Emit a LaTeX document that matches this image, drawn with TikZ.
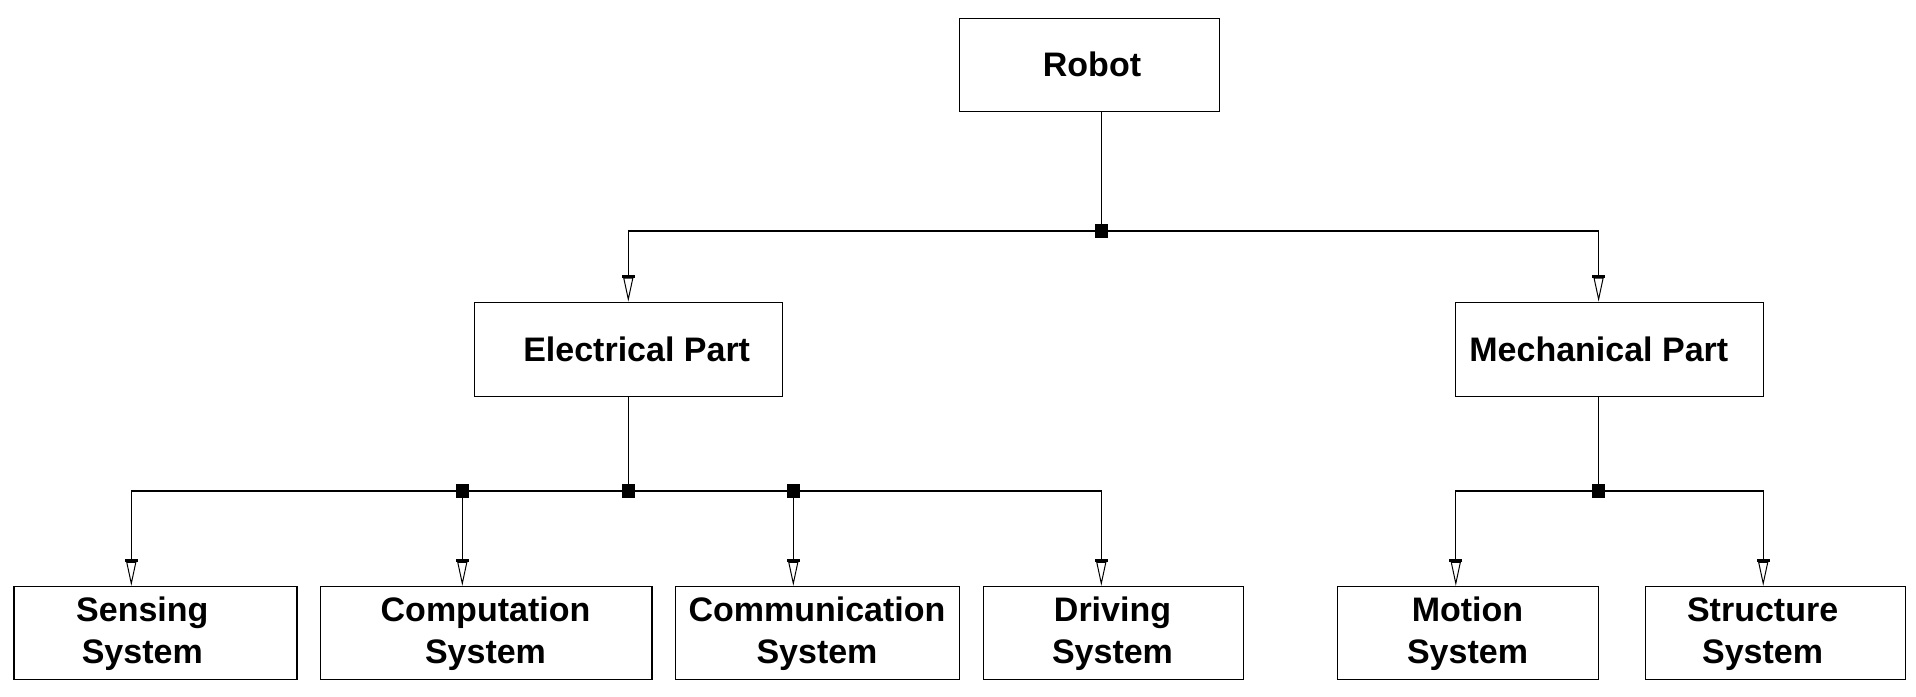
\documentclass[tikz,border=0pt]{standalone}
\usepackage{fontspec}
\setmainfont{Liberation Sans}
\usetikzlibrary{arrows.meta,calc}
\tikzset{
  box/.style={draw, line width=0.6pt, rectangle, inner sep=0pt},
  lbl/.style={font=\bfseries\fontsize{17}{21}\selectfont, align=center, inner sep=0pt},
  conn/.style={line width=0.6pt},
  arr/.style={conn, -{Bar[width=6.5pt,line width=1.3pt,sep=0pt]Triangle[open,length=12pt,width=5pt,line width=0.5pt,sep=0pt]}},
  junc/.style={fill=black, draw=none, rectangle, minimum size=6.2pt, inner sep=0pt},
}
\begin{document}
\begin{tikzpicture}[x=0.5pt,y=-0.5pt]
\useasboundingbox (0,0) rectangle (1916,696);
% boxes
\node[box, minimum width=130pt, minimum height=46.7pt] (robot) at (1089.3,65) {};
\node[box, minimum width=154pt, minimum height=47pt] (elec) at (628.3,349.3) {};
\node[box, minimum width=154pt, minimum height=47pt] (mech) at (1609.3,349.3) {};
\node[box, minimum width=141.5pt, minimum height=46.5pt] (sens) at (155.5,633) {};
\node[box, minimum width=165.7pt, minimum height=46.5pt] (comp) at (486.3,633) {};
\node[box, minimum width=141.9pt, minimum height=46.5pt] (comm) at (817.4,633) {};
\node[box, minimum width=130pt, minimum height=46.5pt] (driv) at (1113.5,633) {};
\node[box, minimum width=130.7pt, minimum height=46.5pt] (moti) at (1467.8,633) {};
\node[box, minimum width=129.8pt, minimum height=46.5pt] (stru) at (1775.3,633) {};
% labels
\node[lbl] (robotT) at (1092,64.5) {Robot};
\node[lbl] (elecT) at (636.7,349) {Electrical Part};
\node[lbl] (mechT) at (1598.8,349) {Mechanical Part};
\node[lbl] (sensT) at (142.3,634) {Sensing\\System};
\node[lbl] (compT) at (485.5,634) {Computation\\System};
\node[lbl] (commT) at (817,634) {Communication\\System};
\node[lbl] (drivT) at (1112.5,634) {Driving\\System};
\node[lbl] (motiT) at (1467.5,634) {Motion\\System};
\node[lbl] (struT) at (1762.6,634) {Structure\\System};
% junctions
\node[junc] (J0) at (1101.3,231) {};
\node[junc] (J1) at (628.3,491) {};
\node[junc] (JC) at (462.3,491) {};
\node[junc] (JM) at (793.3,491) {};
\node[junc] (J2) at (1598.6,491) {};
\coordinate (sA) at (131.3,491);
\coordinate (dA) at (1101.3,491);
\coordinate (moA) at (1455.8,491);
\coordinate (stA) at (1763.2,491);
% connectors
\draw[conn] (robot.south -| J0) -- (J0.center);
\draw[arr] (J0.center) -| (elec.north);
\draw[arr] (J0.center) -| (mech.north -| J2);
\draw[conn] (elec.south) -- (J1.center);
\draw[conn] (mech.south -| J2) -- (J2.center);
\draw[arr] (J1.center) -| (sens.north -| sA);
\draw[arr] (JC.center) -- (JC |- comp.north);
\draw[arr] (JM.center) -- (JM |- comm.north);
\draw[arr] (J1.center) -| (driv.north -| dA);
\draw[arr] (J2.center) -| (moti.north -| moA);
\draw[arr] (J2.center) -| (stru.north -| stA);
% redraw junction squares on top
\foreach \j in {J0,J1,JC,JM,J2} \fill (\j.south west) rectangle (\j.north east);
\end{tikzpicture}
\end{document}
